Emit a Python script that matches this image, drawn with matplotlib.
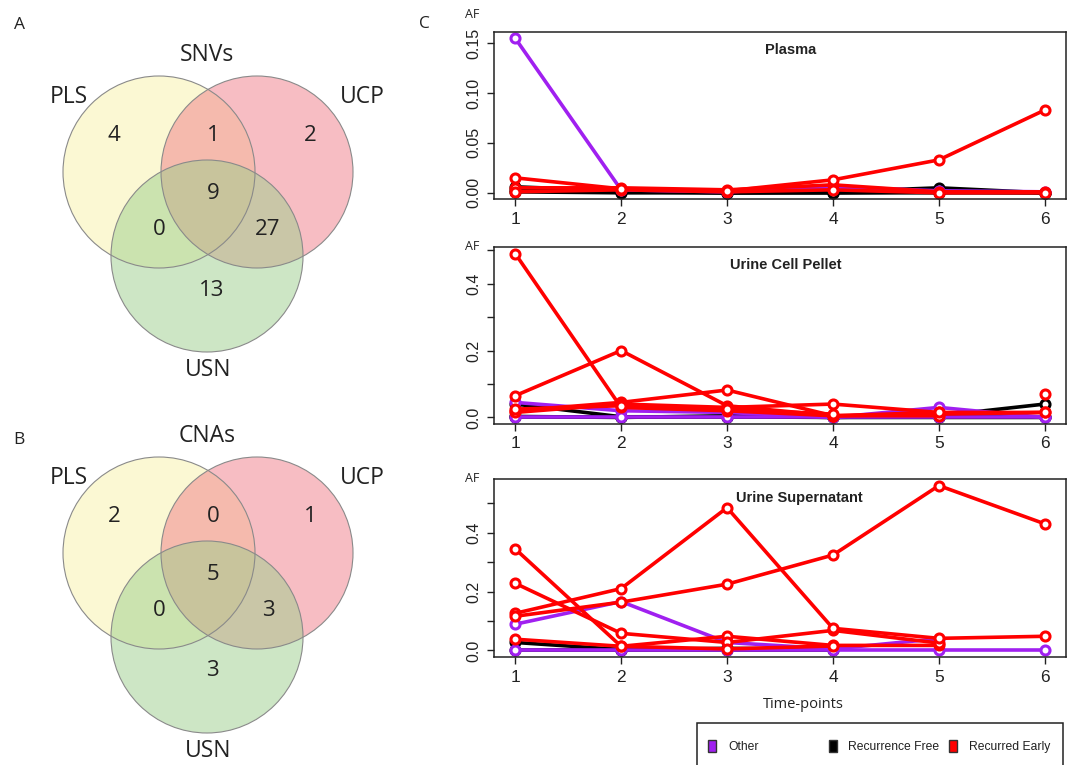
import numpy as np
import matplotlib
matplotlib.use("Agg")
import matplotlib.pyplot as plt
from matplotlib.patches import Circle, Rectangle
from matplotlib.transforms import offset_copy

nan = np.nan

# Venn counts, order: PLS only, PLS&UCP, UCP only, all three, PLS&USN, UCP&USN, USN only
venn_sets = ["PLS", "UCP", "USN"]
snv_counts = [4, 1, 2, 9, 0, 27, 13]
cna_counts = [2, 0, 1, 5, 0, 3, 3]

timepoints = [1, 2, 3, 4, 5, 6]
group_names = ["Other", "Recurrence Free", "Recurred Early"]
group_colors = ["#A020F0", "#000000", "#FF0000"]

# allele fractions per mutation (group index, values at the 6 time-points)
plasma = [
    (1, [0.006, 0.002, 0.000, 0.001, 0.005, 0.000]),
    (1, [0.003, 0.001, 0.000, 0.000, 0.001, 0.000]),
    (1, [0.001, 0.000, 0.000, 0.000, 0.000, 0.000]),
    (0, [0.155, 0.003, 0.001, 0.006, 0.002, 0.001]),
    (2, [0.005, 0.005, 0.003, 0.008, 0.001, 0.001]),
    (2, [0.001, 0.003, 0.001, 0.003, 0.000, 0.000]),
    (2, [0.015, 0.004, 0.002, 0.013, 0.033, 0.083]),
]
cell_pellet = [
    (1, [0.040, 0.002, 0.002, 0.000, 0.005, 0.040]),
    (1, [0.003, 0.000, 0.005, 0.000, 0.000, 0.000]),
    (1, [0.000, 0.000, 0.000, 0.000, 0.000, 0.000]),
    (0, [0.045, 0.020, 0.015, 0.000, 0.030, 0.000]),
    (0, [0.000, 0.000, 0.000, 0.000, 0.000, 0.000]),
    (2, [0.490, 0.030, 0.020, 0.005, 0.010, 0.015]),
    (2, [0.065, 0.200, 0.035, 0.005, 0.015, 0.015]),
    (2, [0.020, 0.045, 0.082, 0.005, 0.005, nan]),
    (2, [0.015, 0.040, 0.030, 0.040, 0.015, nan]),
    (2, [0.025, 0.035, 0.025, 0.010, nan, 0.070]),
]
supernatant = [
    (1, [0.027, 0.003, 0.007, 0.004, nan, nan]),
    (1, [0.000, 0.000, 0.000, 0.000, nan, nan]),
    (0, [0.089, 0.166, 0.027, 0.005, 0.040, nan]),
    (0, [0.000, 0.000, 0.000, 0.000, 0.000, 0.000]),
    (2, [0.345, 0.014, 0.048, 0.017, 0.017, nan]),
    (2, [0.228, 0.058, 0.027, 0.068, 0.025, nan]),
    (2, [0.126, 0.210, 0.485, 0.075, 0.041, 0.048]),
    (2, [0.116, 0.164, 0.225, 0.324, 0.560, 0.430]),
    (2, [0.038, 0.014, 0.005, 0.015, nan, nan]),
]

W, H = 1072, 765
fig = plt.figure(figsize=(W / 100, H / 100), dpi=100)
venn_font = "Open Sans"
r_font = "Liberation Sans"
ink = "#222222"


def draw_venn(ax, counts, title, dy):
    centers = [(159, 172 + dy), (257, 172 + dy), (207, 256 + dy)]
    colors = ["#F9F3A8", "#F17D89", "#9DCF8D"]
    for c, col in zip(centers, colors):
        ax.add_patch(Circle(c, 96, facecolor=col, alpha=0.5, edgecolor="none"))
    for c in centers:
        ax.add_patch(Circle(c, 96, facecolor="none", edgecolor="#8a8a8a", lw=0.8))
    spots = [(114, 135), (213, 135), (310, 135), (213, 193), (159, 229), (268, 229), (212, 290)]
    for (x, y), n in zip(spots, counts):
        ax.text(x, y + dy, str(n), fontsize=16, family=venn_font, ha="center", va="center", color=ink)
    ax.text(207, 55 + dy, title, fontsize=16.5, family=venn_font, ha="center", va="center", color=ink)
    ax.text(69, 97 + dy, venn_sets[0], fontsize=16.5, family=venn_font, ha="center", va="center", color=ink)
    ax.text(362, 97 + dy, venn_sets[1], fontsize=16.5, family=venn_font, ha="center", va="center", color=ink)
    ax.text(208, 370 + dy, venn_sets[2], fontsize=16.5, family=venn_font, ha="center", va="center", color=ink)


# left side: venn diagrams drawn in pixel units
vax = fig.add_axes([0, 0, 420 / W, 1])
vax.set_xlim(0, 420)
vax.set_ylim(H, 0)
vax.axis("off")
draw_venn(vax, snv_counts, "SNVs", 0)
draw_venn(vax, cna_counts, "CNAs", 381)
vax.text(20, 25, "A", fontsize=12.5, family=venn_font, ha="center", va="center", color=ink)
vax.text(19, 440, "B", fontsize=12.5, family=venn_font, ha="center", va="center", color=ink)


def line_panel(top, bottom, series, title, title_x, small):
    ax = fig.add_axes([494 / W, 1 - bottom / H, (1066 - 494) / W, (bottom - top) / H])
    for g, vals in series:
        ax.plot(timepoints, vals, color=group_colors[g], lw=2.6, marker="o", ms=6.5,
                mfc="white", mec=group_colors[g], mew=2.2, solid_capstyle="butt")
    ymax = np.nanmax([v for _, s in series for v in s])
    ax.set_xlim(0.8, 6.2)
    ax.set_ylim(-0.04 * ymax, 1.04 * ymax)
    ax.set_xticks(timepoints)
    if small:
        ticks = np.arange(0, ymax + 0.001, 0.05)
        ax.set_yticks(ticks)
        ax.set_yticklabels(["%.2f" % t for t in ticks])
    else:
        ticks = np.arange(0, ymax + 0.05, 0.1)
        ticks = ticks[ticks <= 1.04 * ymax]
        ax.set_yticks(ticks)
        ax.set_yticklabels(["%.1f" % t if i % 2 == 0 else "" for i, t in enumerate(ticks)])
    for lab in ax.get_yticklabels():
        lab.set_rotation(90)
        lab.set_va("center")
        lab.set_family(r_font)
        lab.set_fontsize(11.5)
        lab.set_color(ink)
    for lab in ax.get_xticklabels():
        lab.set_family(r_font)
        lab.set_fontsize(12.5)
        lab.set_color(ink)
    ax.tick_params(length=5, width=1, pad=4, color=ink)
    ax.tick_params(axis="y", pad=4)
    for s in ax.spines.values():
        s.set_linewidth(1.1)
        s.set_color(ink)
    tr = offset_copy(ax.get_xaxis_transform(), fig=fig, y=-7, units="points")
    ax.text(title_x, 0.99, title, transform=tr, fontsize=10.5,
            family=r_font, fontweight="bold", ha="center", va="top", color=ink)
    # little AF label above the axis
    fig.text(472 / W, 1 - (top - 18 if small else top - 1) / H, "AF", fontsize=9,
             family=venn_font, ha="center", va="center", color=ink)
    return ax


ax1 = line_panel(32, 199, plasma, "Plasma", 3.6, True)
ax2 = line_panel(247, 424, cell_pellet, "Urine Cell Pellet", 3.55, False)
ax3 = line_panel(479, 657, supernatant, "Urine Supernatant", 3.68, False)

fig.text(803 / W, 1 - 705 / H, "Time-points", fontsize=10.5, family=venn_font, ha="center", va="center", color=ink)
fig.text(424 / W, 1 - 24 / H, "C", fontsize=12.5, family=venn_font, ha="center", va="center", color=ink)

# legend box at the bottom right, runs off the page like the original
fig.patches.append(Rectangle((697 / W, -0.05), (1063 - 697) / W, (1 - 723 / H) + 0.05,
                             transform=fig.transFigure, fill=False, lw=1.1, edgecolor=ink))
for i, (name, col) in enumerate(zip(group_names, group_colors)):
    x0 = 708 + i * 120.5
    fig.patches.append(Rectangle((x0 / W, 1 - 752 / H), 8 / W, 12 / H, transform=fig.transFigure,
                                 facecolor=col, edgecolor="#333333", lw=1.0))
    fig.text((x0 + 20) / W, 1 - 747 / H, name, fontsize=8.7, family=r_font, ha="left", va="center", color=ink)

fig.savefig("out.png", dpi=100)
